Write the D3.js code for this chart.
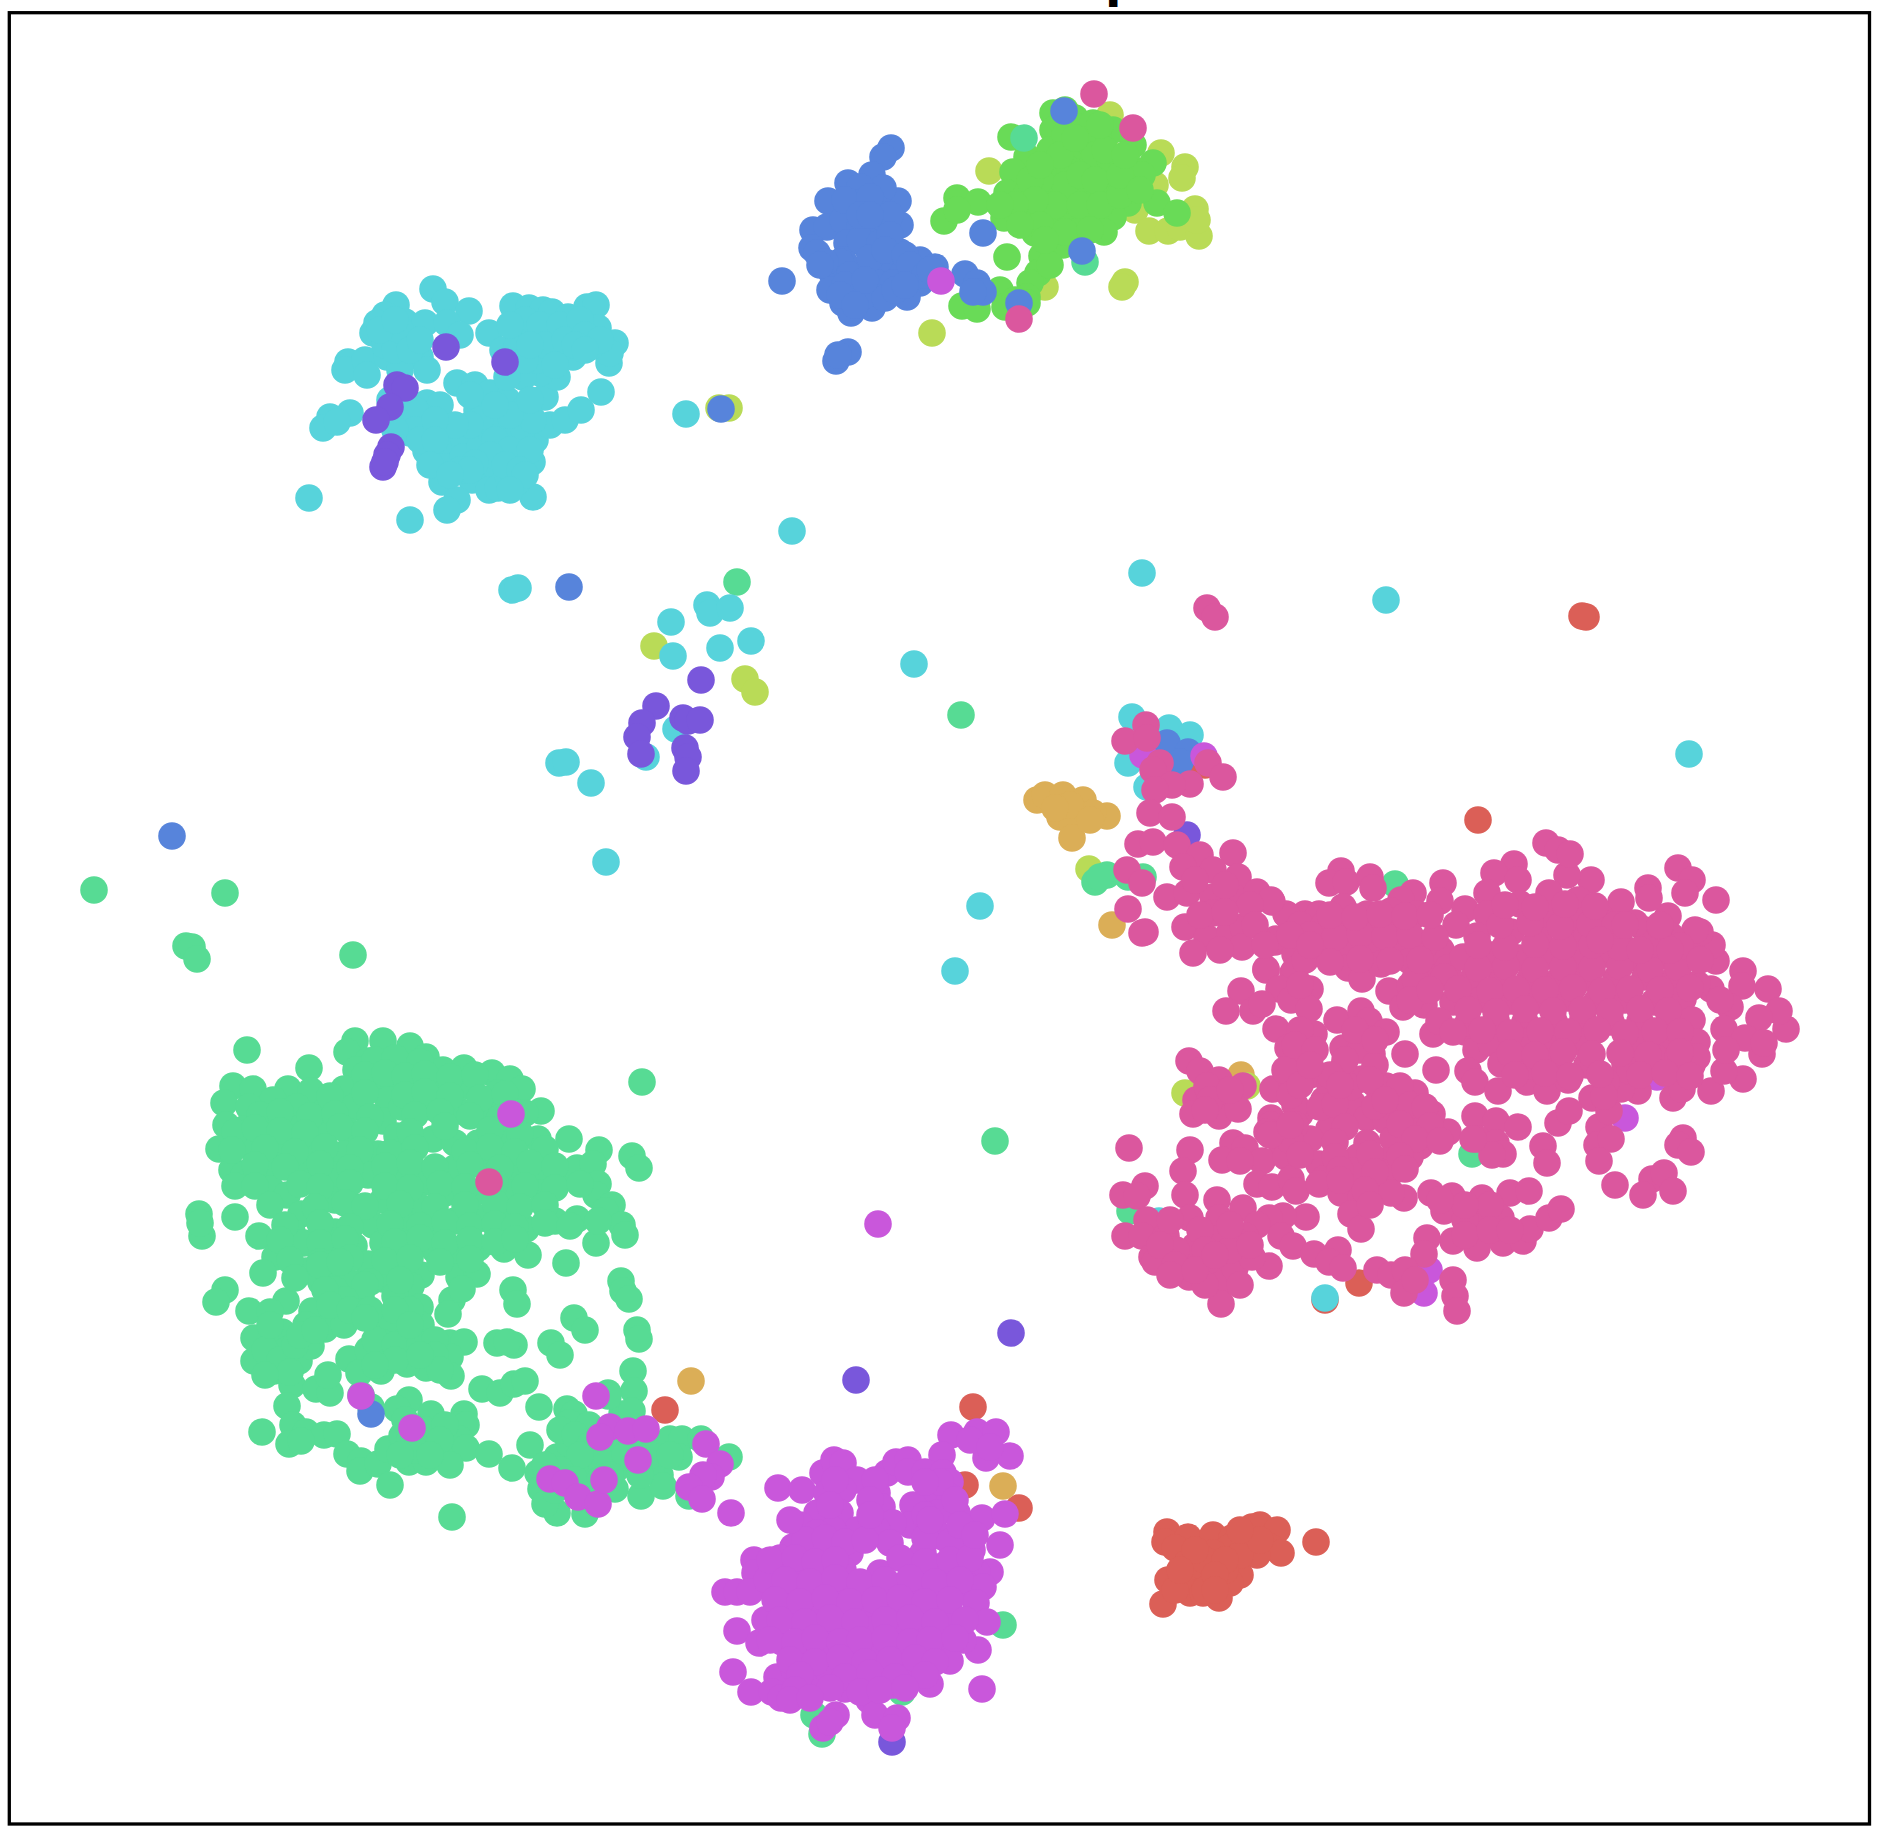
<!DOCTYPE html>
<html>

<head>
	<meta charset="utf-8">
	<script type="text/javascript" src="https://d3js.org/d3.v7.min.js"></script>
	<style>
		html, body { margin: 0; padding: 0; background: #fff; }
		svg { display: block; }
	</style>
</head>

<body>
	<svg width="1885" height="1837"></svg>
	<script>
		// embedding values, one list per class, [x, y]
		var titleText = "p";

		var redPts = [[973,1407],[665,1410],[965,1485],[1019,1508],[1325,1300],[1359,1283],[1586,617],[1582,616],[1478,820],[1190,768],[1205,765],
			[1167,1532],[1165,1542],[1188,1537],[1175,1548],[1213,1535],[1232,1538],[1252,1527],[1260,1525],[1277,1530],[1247,1540],[1270,1547],[1281,1553],[1257,1555],[1230,1547],[1213,1553],[1187,1563],[1168,1580],[1190,1583],[1210,1577],[1240,1575],[1230,1583],[1190,1593],[1203,1593],[1219,1598],[1163,1604],[1316,1542],
			[1200,1565],[1205,1560],[1240,1555],[1225,1570],[1205,1590],[1175,1590],[1260,1540],[1195,1550],[1240,1530],[1225,1560],[1215,1575],[1215,1590],[1180,1570]];

		var goldPts = [[691,1381],[1003,1486],[1241,1075],[1112,925],
			[1037,800],[1045,795],[1063,795],[1083,800],[1060,817],[1077,813],[1072,823],[1107,816],[1093,813],[1072,838],[1070,805],[1090,820],[1055,808]];

		var yellowPts = [[1089,869],[654,646],[745,679],[755,692],[729,408],[719,408],[1185,1093],[1247,1086],
			[989,171],[1110,115],[1161,153],[1185,167],[1182,178],[1117,157],[1155,185],[1135,210],[1149,231],[1168,231],[1195,209],[1180,227],[1199,236],[1197,220],[1045,287],[1125,282],[1122,287],[932,333]];

		var greenPts = [[1011,137],[1053,113],[1065,110],[1075,118],[1053,130],[1077,127],[1093,123],[1113,130],[1133,145],[1027,157],[1050,150],[1077,150],[1100,143],[1093,163],[1130,167],[1153,163],[1142,175],[1013,172],[1050,170],[1070,170],[1107,177],[1123,183],[957,198],[978,202],[1007,193],[1027,193],[1047,190],[1067,197],[1090,193],[1110,200],[1128,203],[944,221],[957,210],[1004,218],[1023,210],[1043,213],[1067,217],[1090,217],[1113,217],[1035,233],[1053,233],[1080,230],[1104,232],[1063,245],[1042,256],[1038,273],[1007,257],[1030,283],[1000,290],[1027,297],[962,306],[977,309],[1005,307],[1027,303],[1157,203],[1177,213],[873,303],
			[1065,135],[1085,140],[1060,155],[1095,155],[1110,160],[1065,185],[1080,175],[1095,180],[1040,180],[1030,180],[1055,205],[1080,205],[1100,205],[1120,195],[1035,200],[1040,225],[1065,232],[1090,230],[1015,205],[1000,205],[1105,150],[1120,175],[1140,190],[1020,225],[1050,265],[1045,240],[1015,300],[1040,165],[1125,155],[1100,125],[1075,138]];

		var mintPts = [[1024,138],[1085,262],[1095,882],[1107,875],[1100,877],[1143,877],[1128,877],[1395,884],[1472,1154],[1130,1211],[737,582],[961,715],[94,890],[225,893],[186,946],[192,947],[197,959],[353,955],[995,1141],[1003,1625],[814,1715],[822,1734],[902,1692],[729,1457],
			[247,1050],[309,1068],[642,1082],[355,1041],[383,1041],[347,1052],[410,1046],[426,1057],[443,1070],[464,1068],[492,1073],[510,1079],[522,1089],[541,1111],[368,1061],[397,1064],[356,1070],[344,1089],[383,1082],[411,1079],[440,1089],[469,1086],[498,1093],[388,1100],
			[233,1086],[253,1089],[288,1089],[311,1091],[224,1103],[273,1100],[226,1125],[249,1107],[219,1149],[244,1129],[268,1118],[297,1107],[325,1111],[354,1107],[292,1129],[321,1132],[349,1132],[383,1121],[402,1107],[431,1107],[459,1111],[488,1114],[512,1121],[397,1136],[433,1139],[502,1143],[478,1143],[455,1143],[538,1139],[569,1139],[599,1150],[632,1156],[639,1168],[249,1146],[282,1146],[311,1154],[344,1154],[378,1154],[402,1161],
			[232,1170],[244,1175],[235,1186],[270,1168],[271,1189],[287,1195],[306,1171],[335,1175],[368,1175],[397,1186],[426,1182],[455,1168],[483,1164],[517,1171],[541,1175],[562,1175],[577,1168],[593,1164],[598,1184],[596,1195],[612,1205],[543,1193],[512,1193],[474,1193],[445,1193],[301,1214],[354,1207],[335,1200],[383,1200],[416,1204],[199,1214],[202,1236],[200,1223],[235,1217],[259,1236],[292,1232],[304,1243],[335,1232],[373,1225],[402,1221],[431,1229],[455,1221],[483,1218],[507,1214],[526,1229],[555,1221],[577,1219],[605,1211],[622,1225],[625,1235],[596,1243],[598,1221],
			[325,1250],[354,1246],[383,1243],[411,1243],[435,1250],[457,1252],[478,1248],[504,1249],[528,1255],[566,1263],[275,1257],[263,1273],[306,1271],[335,1271],[368,1264],[397,1264],[421,1275],[459,1277],[477,1274],[321,1282],[349,1282],[383,1279],[411,1286],[452,1300],[462,1289],[513,1290],[517,1304],[621,1281],[623,1291],[629,1299],[225,1290],[216,1302],[249,1311],[286,1301],[270,1312],[312,1311],[333,1296],[361,1296],[395,1296],[420,1307],[448,1314],[254,1338],[282,1332],[306,1325],[325,1329],[344,1325],[378,1329],[421,1325],[392,1321],[574,1318],[585,1330],[637,1330],[639,1339],[254,1361],[274,1371],[299,1361],[287,1350],[311,1346],[349,1359],[368,1350],[359,1373],[381,1371],[407,1357],[426,1368],[407,1364],[383,1343],[407,1339],[450,1343],[464,1342],[450,1357],[451,1376],[497,1343],[514,1345],[507,1342],[551,1343],[560,1355],[633,1371],[292,1385],[316,1389],[330,1393],[328,1375],[287,1406],[482,1389],[500,1393],[514,1384],[525,1381],[539,1407],[634,1391],[608,1393],[409,1400],[397,1409],[371,1407],[361,1395],[431,1414],[464,1414],[459,1425],[466,1425],[567,1409],[574,1414],[569,1423],[589,1425],[622,1414],[610,1432],[262,1432],[293,1425],[306,1432],[324,1435],[337,1434],[289,1444],[301,1441],[347,1454],[361,1461],[360,1471],[378,1464],[388,1449],[402,1436],[431,1439],[459,1439],[409,1462],[426,1462],[443,1452],[466,1448],[489,1454],[390,1485],[452,1517],[512,1468],[530,1445],[538,1473],[541,1489],[557,1457],[569,1443],[593,1450],[617,1446],[646,1446],[670,1439],[682,1439],[701,1439],[679,1457],[660,1475],[641,1496],[615,1489],[557,1513],[585,1514],[565,1471],[589,1471],[617,1468],[651,1471],[689,1496],[663,1486],[545,1504],[608,1396],[632,1411],
			[375,1060],[395,1058],[420,1062],[365,1075],[385,1073],[405,1076],[425,1074],[450,1077],[475,1075],[330,1096],[365,1093],[405,1095],[425,1092],[450,1096],[480,1098],[505,1094],[260,1115],[280,1112],[310,1116],[335,1114],[370,1117],[415,1115],[440,1112],[470,1116],[500,1118],[525,1113],[235,1132],[255,1128],[280,1131],[305,1133],[340,1127],[365,1131],[410,1132],[445,1126],[490,1130],[520,1134],
			[232,1150],[265,1148],[295,1152],[325,1147],[360,1150],[390,1153],[415,1148],[465,1151],[490,1147],[515,1152],[545,1149],[255,1165],[285,1167],[320,1164],[350,1168],[385,1166],[410,1163],[435,1167],[470,1165],[500,1168],[530,1163],[555,1166],[255,1186],[300,1184],[320,1187],[350,1183],[385,1186],[410,1188],[440,1184],[465,1187],[495,1183],[525,1186],[555,1188],[580,1184],
			[270,1205],[315,1207],[345,1203],[365,1206],[400,1204],[435,1207],[465,1205],[495,1203],[520,1207],[545,1205],[285,1225],[320,1223],[350,1227],[390,1224],[420,1226],[445,1222],[470,1226],[495,1224],[515,1227],[545,1223],[570,1226],[280,1240],[320,1243],[345,1239],[395,1242],[420,1238],[445,1243],[470,1240],[495,1242],[515,1239],[290,1260],[320,1262],[350,1258],[385,1261],[410,1258],[440,1262],[470,1259],[295,1278],[335,1290],[370,1282],
			[265,1350],[280,1360],[295,1345],[270,1325],[300,1335],[315,1330],[290,1372],[265,1375],[375,1340],[395,1345],[420,1345],[435,1340],[395,1360],[435,1355],[375,1365],[440,1370],[420,1355],
			[320,1265],[340,1262],[365,1285],[345,1300],[325,1290],[330,1305],[350,1310],[370,1310],[365,1318],[410,1310],[400,1280],[395,1310],[410,1325],
			[405,1420],[410,1440],[425,1430],[445,1425],[440,1440],[415,1450],[400,1455],[450,1465],[430,1455],
			[560,1430],[575,1435],[590,1445],[600,1460],[580,1455],[560,1470],[545,1465],[575,1480],[600,1480],[625,1455],[640,1445],[650,1455],[670,1455],[640,1475],[585,1495],[610,1475],[555,1490]];

		var cyanPts = [[433,289],[445,302],[469,311],[396,305],[385,315],[377,323],[373,333],[405,322],[425,323],[447,323],[460,335],[390,337],[413,340],[348,362],[345,370],[365,360],[367,375],[387,357],[403,357],[420,357],[427,370],[400,370],[390,400],[407,400],[427,403],[440,405],[423,417],[403,423],[410,433],[427,427],[426,451],[443,460],[445,440],[463,437],[463,457],[480,447],[483,467],[442,482],[472,480],[489,490],[498,488],[457,500],[447,510],[410,520],[309,498],[533,497],[517,482],[507,473],[532,462],[520,457],[535,440],[517,440],[503,433],[490,430],[477,410],[457,383],[475,385],[490,393],[507,400],[523,410],[497,417],[550,425],[565,420],[581,410],[601,392],[545,397],[557,377],[540,373],[523,377],[507,377],[489,333],[503,350],[513,306],[529,308],[543,310],[552,312],[568,317],[587,307],[596,305],[598,328],[615,343],[609,363],[610,353],[590,347],[573,357],[557,353],[537,360],[517,330],[533,330],[550,333],[573,333],[517,347],[330,417],[350,413],[323,428],[337,422],[523,427],[533,420],
			[686,414],[792,531],[512,590],[518,588],[671,622],[707,605],[710,613],[730,608],[751,641],[720,648],[673,656],[914,664],[1142,573],[1386,600],[1689,754],[676,729],[646,757],[559,763],[566,762],[591,783],[606,862],[980,906],[955,971],[1325,1298],
			[1132,717],[1169,728],[1190,735],[1128,763],[1147,787],[1159,1221],
			[525,320],[540,325],[560,325],[580,320],[545,345],[565,340],[585,335],[525,360],[555,365],[575,345],[600,340],[530,345],[510,325],[585,350],
			[480,420],[495,440],[510,450],[470,425],[455,425],[490,455],[505,465],[530,450],[475,463],[460,470],[510,415],[530,400],[495,405],[470,395],[520,470],[525,475],[510,490],[470,470],
			[385,345],[395,350],[400,330],[380,330],[410,350],[395,320],[420,340],[400,410],[415,410],[415,430],[395,430],[420,440],[435,420],[435,440],[430,465],[450,475]];

		var bluePts = [[891,148],[883,157],[872,175],[848,183],[828,201],[898,201],[883,188],[860,187],[860,203],[880,210],[900,225],[813,230],[827,227],[843,220],[860,227],[877,230],[812,248],[817,253],[847,243],[867,247],[900,252],[920,260],[935,267],[843,260],[832,273],[835,283],[860,270],[883,267],[903,273],[920,283],[907,297],[877,283],[843,303],[851,313],[872,308],[857,290],[893,283],[782,281],[965,274],[977,283],[983,292],[973,292],[848,352],[836,361],[838,355],[983,233],[1064,111],[1082,251],[1019,303],
			[721,409],[569,587],[172,836],[371,1414],[1167,743],[1188,752],[1180,762],
			[845,200],[870,197],[890,215],[860,240],[880,243],[890,235],[840,262],[825,262],[850,275],[870,258],[885,250],[905,255],[910,265],[830,290],[845,285],[865,295],[885,298],[895,290],[840,295],[820,265],[925,275],[940,280],[905,285],[860,215],[870,215],[865,280],[855,305],[930,270]];

		var purplePts = [[446,347],[505,362],[397,385],[405,388],[390,407],[376,420],[391,447],[387,455],[383,467],[385,462],
			[1187,835],[701,680],[656,706],[642,723],[637,737],[641,754],[683,718],[688,721],[700,720],[685,748],[688,757],[686,771],[1011,1333],[856,1380],[892,1742]];

		var magentaPts = [[941,281],[878,1224],[511,1114],[361,1396],[412,1428],[1143,755],[1204,756],[1657,1077],[1625,1118],[1429,1270],[1424,1293],
			[596,1396],[610,1427],[600,1437],[628,1431],[646,1429],[706,1444],[638,1460],[720,1464],[711,1477],[703,1475],[689,1487],[702,1499],[731,1513],[550,1479],[565,1483],[578,1497],[598,1504],[604,1480],
			[951,1435],[977,1432],[996,1432],[986,1458],[1010,1456],[970,1440],[990,1447],[942,1455],[778,1488],[802,1490],[823,1473],[834,1460],[843,1463],[857,1480],[887,1473],[896,1462],[908,1460],[908,1472],[925,1472],[943,1473],[950,1482],[930,1497],[950,1497],[913,1505],[827,1493],[843,1490],[877,1493],[882,1507],[817,1513],[840,1513],[800,1525],[982,1518],[1005,1514],[957,1513],[938,1513],[910,1525],[893,1523],[877,1530],[857,1530],[833,1530],[817,1533],[793,1547],[754,1560],[780,1558],[755,1573],[807,1550],[830,1550],[850,1553],[890,1543],[923,1553],[943,1537],[963,1537],[972,1550],[1000,1545],[990,1572],[977,1573],[957,1567],[937,1567],[913,1567],[880,1573],[843,1570],[820,1573],[797,1570],[777,1570],[725,1592],[737,1592],[750,1592],[767,1580],[782,1595],[803,1593],[827,1593],[850,1590],[873,1590],[897,1590],[923,1587],[947,1587],[970,1587],[983,1587],[976,1603],[987,1622],[953,1620],[930,1607],[907,1607],[883,1610],[860,1610],[837,1610],[813,1613],[790,1610],[765,1620],[737,1631],[759,1643],[782,1642],[803,1633],[827,1633],[850,1630],[873,1630],[897,1630],[920,1630],[943,1637],[978,1650],[963,1640],[950,1661],[923,1653],[900,1653],[877,1657],[850,1653],[823,1653],[800,1657],[733,1672],[777,1677],[793,1667],[812,1685],[828,1670],[845,1689],[860,1677],[883,1677],[893,1685],[910,1673],[930,1684],[751,1692],[772,1692],[781,1698],[982,1689],[869,1700],[875,1715],[897,1718],[892,1728],[836,1715],[823,1728],[830,1722],
			[805,1540],[825,1538],[845,1542],[865,1540],[925,1538],[950,1542],[770,1560],[795,1558],[815,1562],[835,1560],[900,1558],[925,1562],[950,1560],[970,1558],[785,1580],[810,1582],[835,1578],[860,1582],[885,1580],[910,1578],[935,1582],[960,1580],
			[775,1600],[800,1602],[825,1598],[850,1602],[875,1600],[900,1598],[925,1602],[950,1600],[780,1620],[805,1622],[830,1618],[855,1622],[885,1620],[910,1618],[935,1622],[965,1620],[770,1640],[795,1642],[815,1638],[840,1642],[860,1640],[885,1638],[910,1642],[930,1640],[955,1638],
			[790,1660],[815,1662],[840,1658],[865,1662],[890,1660],[915,1658],[935,1662],[800,1675],[845,1677],[870,1673],[895,1677],[925,1675],[795,1690],[830,1688],[860,1692],[880,1690],[905,1688],[790,1700],[810,1698],
			[835,1480],[875,1480],[940,1482],[925,1482],[870,1500],[925,1515],[955,1500],[830,1505],[790,1520],[870,1515],[930,1520],[960,1525],[975,1535]];

		var pinkPts = [[1094,94],[1133,128],[1019,319],[489,1182],[1207,608],[1215,617],
			[1146,725],[1125,741],[1147,738],[1160,763],[1153,770],[1208,763],[1223,777],[1190,784],[1172,785],[1155,790],[1150,813],[1172,817],[1138,844],[1153,842],[1177,845],[1200,855],[1233,853],[1127,870],[1142,883],[1183,867],[1213,870],[1238,877],[1167,897],[1187,893],[1213,897],[1233,897],[1257,892],[1272,902],[1287,915],[1185,927],[1207,938],[1193,953],[1128,909],[1145,932],[1142,933],[1230,932],[1243,927],[1242,947],[1266,969],[1275,942],[1290,933],[1297,953],[1293,973],[1213,913],
			[1341,871],[1329,883],[1346,882],[1370,877],[1373,888],[1443,883],[1440,901],[1413,893],[1401,900],[1417,914],[1391,911],[1367,914],[1343,907],[1305,914],[1319,914],[1286,914],[1271,900],[1276,939],[1300,925],[1324,925],[1348,925],[1377,925],[1396,925],[1323,948],[1295,954],[1348,950],[1372,950],[1405,943],[1410,961],[1427,955],[1441,950],[1348,968],[1362,979],[1381,964],[1266,970],[1295,970],[1279,989],[1291,1000],[1310,989],[1309,1009],[1389,991],[1410,986],[1403,1007],[1424,1005],[1434,979],[1448,968],
			[1241,991],[1226,1011],[1253,1011],[1262,1004],[1276,1029],[1288,1048],[1314,1034],[1337,1020],[1361,1011],[1369,1021],[1386,1032],[1369,1039],[1343,1048],[1405,1054],[1343,1068],[1372,1054],[1433,1034],[1436,1070],[1465,1032],[1476,1050],[1468,1071],[1475,1082],[1498,1091],[1527,1082],[1547,1091],[1568,1080],[1592,1098],[1638,1091],[1673,1098],[1682,1089],[1711,1091],[1743,1079],[1724,1071],[1762,1054],[1786,1029],[1768,989],[1743,971],[1742,986],[1779,1011],[1759,1018],[1730,1007],[1724,1029],[1745,1038],[1726,1050],[1764,1043],[1711,989],[1697,984],[1716,961],[1712,945],[1700,932],[1668,916],[1695,930],[1678,868],[1692,880],[1685,893],[1716,900],[1648,888],[1645,930],[1622,946],[1671,936],[1649,898],[1621,902],[1591,880],[1567,875],[1546,843],[1558,850],[1570,854],[1514,864],[1494,873],[1518,880],[1487,893],[1465,909],[1456,925],[1487,914],[1549,893],[1578,900],[1601,918],[1520,904],[1549,918],[1578,921],[1477,936],[1511,932],[1539,939],[1568,943],[1587,936],[1424,946],
			[1463,957],[1491,955],[1520,958],[1549,956],[1578,957],[1606,954],[1635,958],[1664,956],[1692,957],
			[1415,979],[1444,977],[1472,980],[1501,978],[1530,979],[1558,981],[1587,978],[1616,979],[1645,977],[1673,980],
			[1410,1000],[1453,1002],[1482,999],[1511,1001],[1539,1000],[1568,998],[1597,1001],[1625,1000],[1654,1002],[1683,999],
			[1439,1021],[1468,1023],[1496,1020],[1525,1022],[1554,1021],[1583,1019],[1611,1022],[1640,1021],[1669,1023],[1692,1020],
			[1491,1043],[1520,1041],[1549,1044],[1578,1042],[1635,1043],[1664,1045],[1697,1042],
			[1501,1064],[1530,1066],[1558,1063],[1587,1065],[1625,1064],[1654,1062],[1692,1065],[1697,1057],
			[1273,1089],[1291,1079],[1310,1075],[1305,1057],[1362,1079],[1386,1086],[1415,1093],[1393,1104],[1353,1104],[1324,1100],[1271,1118],[1300,1114],[1329,1129],[1448,1132],[1432,1114],[1367,1118],[1386,1121],[1415,1121],[1367,1143],[1393,1139],[1420,1146],[1358,1157],[1386,1161],[1410,1157],[1271,1125],[1281,1143],[1310,1139],[1233,1143],[1245,1148],[1222,1160],[1262,1161],[1240,1161],[1286,1157],[1267,1132],[1319,1164],[1324,1179],[1353,1171],[1381,1179],[1393,1171],[1257,1184],[1272,1187],[1291,1179],[1296,1191],[1319,1184],[1341,1193],[1361,1198],[1404,1198],[1391,1193],[1351,1214],[1361,1229],
			[1129,1148],[1190,1150],[1183,1171],[1145,1186],[1123,1195],[1137,1196],[1185,1195],[1217,1200],[1243,1208],[1306,1217],[1283,1216],[1269,1218],[1257,1225],[1281,1236],[1293,1246],[1314,1254],[1338,1250],[1329,1262],[1343,1268],
			[1189,1061],[1200,1071],[1219,1080],[1243,1086],[1196,1100],[1224,1100],[1193,1114],[1219,1116],[1238,1109],[1207,1086],
			[1147,1220],[1125,1236],[1142,1236],[1166,1236],[1152,1257],[1155,1262],[1183,1264],[1189,1277],[1209,1268],[1222,1284],[1221,1304],[1235,1268],[1269,1266],[1252,1257],[1190,1218],[1219,1218],[1219,1239],[1195,1246],[1245,1236],[1176,1250],
			[1431,1193],[1452,1196],[1482,1198],[1510,1193],[1529,1191],[1444,1211],[1477,1218],[1501,1218],[1453,1241],[1477,1248],[1503,1243],[1523,1241],[1530,1229],[1549,1218],[1561,1209],[1427,1238],[1424,1254],[1377,1270],[1391,1275],[1405,1270],[1404,1293],[1415,1280],[1453,1280],[1455,1296],[1457,1311],
			[1475,1116],[1496,1121],[1518,1127],[1477,1139],[1496,1143],[1503,1154],[1492,1155],[1473,1139],[1543,1146],[1547,1163],[1558,1123],[1569,1111],[1599,1127],[1597,1145],[1611,1139],[1599,1161],[1615,1185],[1609,1111],[1683,1138],[1678,1145],[1691,1152],[1652,1179],[1664,1173],[1643,1195],[1673,1191],
			[1621,1089],[1654,1057],[1630,1071],[1606,1082],[1678,1057],[1604,1096],
			[1478,968],[1506,966],[1535,969],[1563,967],[1592,968],[1620,966],[1650,969],[1678,967],[1430,990],[1458,989],[1490,991],[1516,989],[1545,990],[1573,988],[1602,991],[1630,989],[1660,990],[1690,988],
			[1468,1010],[1496,1012],[1525,1009],[1553,1011],[1582,1010],[1610,1012],[1640,1009],[1668,1011],[1453,1032],[1482,1030],[1510,1033],[1540,1031],[1568,1032],[1597,1030],[1625,1033],[1655,1031],[1680,1032],
			[1510,1053],[1535,1055],[1563,1052],[1592,1054],[1620,1053],[1648,1055],[1680,1052],[1478,945],[1505,947],[1535,944],[1563,946],[1592,945],[1620,947],[1650,944],[1680,946],[1500,925],[1530,923],[1560,926],[1590,924],[1615,925],[1635,923],[1660,926],[1505,905],[1535,907],[1565,904],[1595,906],[1515,1075],[1545,1073],[1570,1076],[1600,1074],[1640,1075],[1665,1073],[1690,1076],
			[1310,935],[1335,937],[1360,934],[1385,936],[1410,935],[1435,937],[1305,960],[1330,962],[1360,959],[1390,961],[1420,960],[1330,915],[1355,917],[1380,914],[1405,916],[1430,915],[1300,985],
			[1330,1085],[1350,1087],[1375,1084],[1400,1086],[1295,1105],[1320,1107],[1335,1104],[1375,1106],[1410,1105],[1425,1107],[1295,1125],[1345,1127],[1400,1124],[1430,1126],[1290,1140],[1335,1142],[1415,1139],[1440,1141],[1300,1155],[1335,1157],[1370,1154],[1400,1156],[1340,1170],[1375,1172],[1405,1169],[1365,1190],[1340,1180],[1370,1205],
			[1195,880],[1225,885],[1250,905],[1200,915],[1225,912],[1255,925],[1265,945],[1220,950],[1290,935],[1310,945],[1210,1100],[1205,1110],[1230,1090],
			[1170,1220],[1200,1230],[1160,1245],[1205,1250],[1175,1265],[1230,1250],[1250,1245],[1205,1285],[1240,1285],[1170,1275],[1195,1270],[1230,1225],[1215,1255],
			[1465,1220],[1490,1205],[1465,1235],[1490,1230],[1510,1230],[1465,1205],[1440,1200],
			[1360,1050],[1375,1065],[1355,1030],[1345,1060],[1375,1040],[1370,1080],[1385,1100],[1330,1075],[1340,1085],
			[1640,950],[1670,950],[1660,925],[1625,925],[1600,940],[1700,960],[1720,1000],
			[1285,1070],[1290,1095],[1270,1135],[1290,1125],[1300,1085],[1300,1030],[1295,1045],[1315,1050],[1310,1065]];

		var classes = [
			{ color: "#db5f57", pts: redPts },
			{ color: "#dbae57", pts: goldPts },
			{ color: "#b9db57", pts: yellowPts },
			{ color: "#69db57", pts: greenPts },
			{ color: "#57db94", pts: mintPts },
			{ color: "#57d3db", pts: cyanPts },
			{ color: "#5784db", pts: bluePts },
			{ color: "#7957db", pts: purplePts },
			{ color: "#c957db", pts: magentaPts },
			{ color: "#db579e", pts: pinkPts }
		];

		var margin = { top: 12.7, right: 15.5, bottom: 13, left: 9.3 };
		var width = 1885, height = 1837;

		var x = d3.scaleLinear()
			.domain([margin.left, width - margin.right])
			.range([margin.left, width - margin.right]);

		var y = d3.scaleLinear()
			.domain([margin.top, height - margin.bottom])
			.range([margin.top, height - margin.bottom]);

		var svg = d3.select("svg");

		// title sits above the page, only the descender shows
		svg.append("text")
			.attr("x", 1105)
			.attr("y", -3.3)
			.attr("font-family", "DejaVu Sans")
			.attr("font-weight", "bold")
			.attr("font-size", 48)
			.text(titleText);

		classes.forEach(function (c) {
			svg.append("g")
				.attr("fill", c.color)
				.selectAll("circle")
				.data(c.pts)
				.join("circle")
				.attr("cx", d => x(d[0]))
				.attr("cy", d => y(d[1]))
				.attr("r", 13.8);
		});

		// frame, no ticks on this plot
		svg.append("rect")
			.attr("x", x.range()[0])
			.attr("y", y.range()[0])
			.attr("width", x.range()[1] - x.range()[0])
			.attr("height", y.range()[1] - y.range()[0])
			.attr("fill", "none")
			.attr("stroke", "black")
			.attr("stroke-width", 3.3);
	</script>
</body>

</html>
